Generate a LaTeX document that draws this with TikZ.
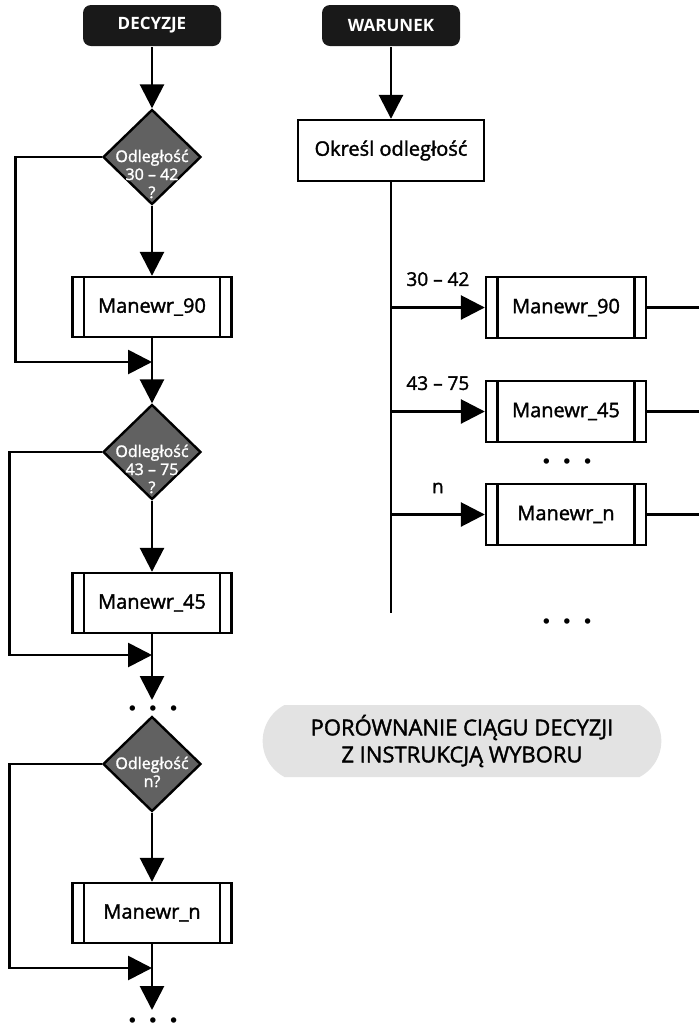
\documentclass[tikz,border=0pt]{standalone}
\usepackage{fontspec}
\setmainfont{Open Sans}
\IfFontExistsTF{Open Sans SemiBold}{\newfontfamily\semib{Open Sans SemiBold}}{\newfontfamily\semib{Open Sans}[FakeBold=1.6]}
\usetikzlibrary{arrows.meta, shapes.geometric, shapes.misc, positioning}
\newcommand{\dtext}[1]{\raisebox{-2.5pt}[0pt][0pt]{\begin{tabular}[t]{@{}c@{}}#1\end{tabular}}}
\newcommand{\threedots}{$\bullet$\hspace{6.5pt}$\bullet$\hspace{6.5pt}$\bullet$}

\begin{document}
\begin{tikzpicture}[x=0.5pt, y=-0.5pt, line width=1.4pt, >={Triangle[width=12pt, length=12pt]}]
    \tikzstyle{head} = [fill=black!90, text=white, rounded corners=4pt, minimum width=69pt, minimum height=20.5pt, inner sep=0pt, font=\bfseries\fontsize{8.5}{11}\selectfont]
    \tikzstyle{box} = [draw, fill=white, line width=1.2pt, minimum width=93pt, minimum height=30.5pt, inner sep=0pt, font=\semib\fontsize{10}{12}\selectfont]
    \tikzstyle{proc} = [box, minimum width=79.5pt, minimum height=30pt,
        path picture={\draw[line width=1.2pt]
            ([xshift=5.75pt]path picture bounding box.north west) -- ([xshift=5.75pt]path picture bounding box.south west)
            ([xshift=-5.75pt]path picture bounding box.north east) -- ([xshift=-5.75pt]path picture bounding box.south east);}]
    \tikzstyle{decision} = [diamond, draw, fill=black!62, text=white, line width=1.2pt, inner sep=0pt, minimum width=49pt, minimum height=47.5pt, font=\semib\fontsize{8}{9}\selectfont]
    \tikzstyle{lbl} = [inner sep=1pt, font=\semib\fontsize{9.5}{11}\selectfont]
    \tikzstyle{dotrow} = [inner sep=0pt, font=\fontsize{6.3}{6}\selectfont]
    \tikzstyle{note} = [rounded rectangle, rounded rectangle arc length=125, fill=black!11, minimum width=206pt, minimum height=36pt, align=center, font=\semib\fontsize{11}{13.5}\selectfont]
    \useasboundingbox[fill=white] (0,0) rectangle (699,1024);

    % ciag decyzji
    \node [head] at (152,25.5) (dec) {DECYZJE};
    \node [decision] at (152,157) (d1) {\dtext{Odległość\\30 – 42\\?}};
    \node [proc] at (152,307) (m1) {Manewr\_90};
    \node [decision] at (152,452) (d2) {\dtext{Odległość\\43 – 75\\?}};
    \node [proc] at (152,603) (m2) {Manewr\_45};
    \node [dotrow] at (153,709) (dotsa) {\threedots};
    \node [decision] at (152,764) (d3) {\dtext{Odległość\\n?}};
    \node [proc] at (152,913) (m3) {Manewr\_n};
    \node [dotrow] at (153,1021) (dotsb) {\threedots};
    \coordinate (j1) at (152,362);
    \coordinate (j2) at (152,655);
    \coordinate (j3) at (152,968);
    \coordinate (a2) at (152,700);
    \coordinate (a3) at (152,1010);

    % instrukcja wyboru
    \node [head] at (391,25.5) (war) {WARUNEK};
    \node [box] at (391,150.5) (okr) {Określ odległość};
    \node [proc, minimum width=80pt, minimum height=30.5pt] at (566,307.5) (r1) {Manewr\_90};
    \node [proc, minimum width=80pt, minimum height=30.5pt] at (566,411.5) (r2) {Manewr\_45};
    \node [dotrow] at (567,462) (dotsc) {\threedots};
    \node [proc, minimum width=80pt, minimum height=30.5pt] at (566,514.5) (r3) {Manewr\_n};
    \node [dotrow] at (567,622) (dotsd) {\threedots};
    \coordinate (b1) at (391,307.5);
    \coordinate (b2) at (391,411.5);
    \coordinate (b3) at (391,514.5);
    \coordinate (vend) at (391,613);
    \coordinate (e1) at (699,307.5);
    \coordinate (e2) at (699,411.5);
    \coordinate (e3) at (699,514.5);

    \node [note] at (462,741) (cmp) {PORÓWNANIE CIĄGU DECYZJI\\Z INSTRUKCJĄ WYBORU};

    \draw[->] (dec) -- (d1);
    \draw[->] (d1) -- (m1);
    \draw[->] (d1.west) -- ++(-86,0) |- (j1);
    \draw[->] (m1) -- (d2);
    \draw[->] (d2) -- (m2);
    \draw[->] (d2.west) -- ++(-92,0) |- (j2);
    \draw[->] (m2) -- (a2);
    \draw[->] (d3) -- (m3);
    \draw[->] (d3.west) -- ++(-92,0) |- (j3);
    \draw[->] (m3) -- (a3);

    \draw[->] (war) -- (okr);
    \draw (okr) -- (vend);
    \draw[->] (b1) -- (r1) node [lbl, midway, above=9pt] (l1) {30 – 42};
    \draw[->] (b2) -- (r2) node [lbl, midway, above=9pt] (l2) {43 – 75};
    \draw[->] (b3) -- (r3) node [lbl, midway, above=9pt] (l3) {n};
    \draw (r1) -- (e1);
    \draw (r2) -- (e2);
    \draw (r3) -- (e3);
\end{tikzpicture}
\end{document}
